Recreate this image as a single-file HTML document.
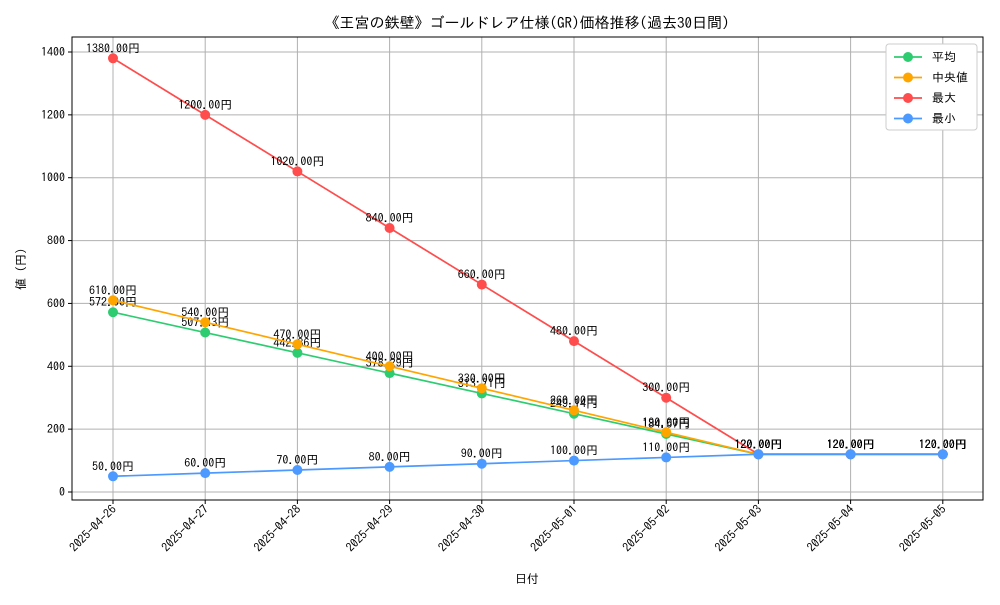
<!DOCTYPE html>
<html><head><meta charset="utf-8"><style>
body{margin:0;background:#fff;}
svg text{font-family:"IPAGothic","Noto Sans CJK JP",sans-serif;fill:#000;}
</style></head><body>
<svg id="chart" width="1000" height="600"></svg>
<script>
const dates=["2025-04-26","2025-04-27","2025-04-28","2025-04-29","2025-04-30","2025-05-01","2025-05-02","2025-05-03","2025-05-04","2025-05-05"];
const avgVals=[572.00,507.43,442.86,378.29,313.71,249.14,184.57,120,120,120];
const medVals=[610,540,470,400,330,260,190,120,120,120];
const maxVals=[1380,1200,1020,840,660,480,300,120,120,120];
const minVals=[50,60,70,80,90,100,110,120,120,120];
const yTicks=[0,200,400,600,800,1000,1200,1400];
const NS="http://www.w3.org/2000/svg";
const svg=document.getElementById('chart');
const L=72,R=983,T=37,B=500;
const x0=113,dx=92.2;
const xs=i=>x0+i*dx;
const ys=v=>492-v*(440/1400);
function el(t,a,p){const e=document.createElementNS(NS,t);for(const k in a)e.setAttribute(k,a[k]);(p||svg).appendChild(e);return e;}
// grid
yTicks.forEach(v=>{const g=el('line',{x1:L,x2:R,y1:ys(v),y2:ys(v),stroke:'#b0b0b0','stroke-width':1});

el('line',{x1:L-4,x2:L,y1:ys(v),y2:ys(v),stroke:'#000'});
const t=el('text',{x:L-7,y:ys(v)+4,'text-anchor':'end','font-size':12});t.textContent=v;
});
dates.forEach((d,i)=>{const g=el('line',{x1:xs(i),x2:xs(i),y1:T,y2:B,stroke:'#b0b0b0','stroke-width':1});

el('line',{x1:xs(i),x2:xs(i),y1:B,y2:B+4,stroke:'#000'});
const t=el('text',{x:xs(i)+4,y:B+10,'text-anchor':'end','font-size':12,transform:`rotate(-45 ${xs(i)+4} ${B+10})`});t.textContent=d;
});
const fr=el('rect',{x:L,y:T,width:R-L,height:B-T,fill:'none',stroke:'#000','stroke-width':1});

const series=[["avg",avgVals,"#2ecc71","平均"],["median",medVals,"#ffa500","中央値"],["max",maxVals,"#ff4c4c","最大"],["min",minVals,"#4c9aff","最小"]];
series.forEach(([n,vals,c])=>{
const g=el('g',{});
el('polyline',{points:vals.map((v,i)=>xs(i)+','+ys(v)).join(' '),fill:'none',stroke:c,'stroke-width':1.7},g);
vals.forEach((v,i)=>{const p=el('circle',{cx:xs(i),cy:ys(v),r:5,fill:c},g);

const t=el('text',{x:xs(i),y:ys(v)-6,'text-anchor':'middle','font-size':12},g);t.textContent=v.toFixed(2)+'円';
});
});
const ti=el('text',{x:527,y:28,'text-anchor':'middle','font-size':15});ti.textContent='《王宮の鉄壁》ゴールドレア仕様(GR)価格推移(過去30日間)';

const xt=el('text',{x:527,y:583,'text-anchor':'middle','font-size':12});xt.textContent='日付';

const yt=el('text',{x:25,y:269,'text-anchor':'middle','font-size':12,transform:'rotate(-90 25 269)'});yt.textContent='値 (円)';

const lg=el('g',{});
el('rect',{x:886,y:44,width:91,height:86,fill:'#fff',stroke:'#ccc',rx:3},lg);
series.forEach(([n,vals,c,lab],k)=>{const y=57+k*20.5;
const e=el('g',{},lg);
el('line',{x1:894,x2:922,y1:y,y2:y,stroke:c,'stroke-width':1.7},e);
el('circle',{cx:908,cy:y,r:5,fill:c},e);
const t=el('text',{x:932,y:y+4,'font-size':12},e);t.textContent=lab;});
</script>
</body></html>
